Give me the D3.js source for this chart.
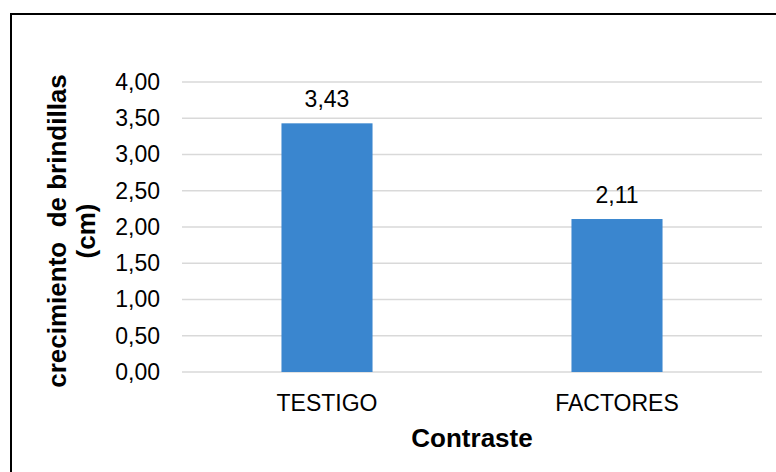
<!DOCTYPE html>
<html>
<head>
<meta charset="utf-8">
<script src="https://cdn.jsdelivr.net/npm/d3@7"></script>
<style>
  html, body { margin: 0; padding: 0; background: #fff; }
  svg { display: block; }
  text { font-family: "Liberation Sans", Arial, sans-serif; fill: #000; }
</style>
</head>
<body>
<svg id="chart" width="776" height="472"></svg>
<script>
const categories = ["TESTIGO", "FACTORES"];
const values = [3.43, 2.11];
const yTicks = [0, 0.5, 1, 1.5, 2, 2.5, 3, 3.5, 4];
const xTitle = "Contraste";
const yTitleLines = ["crecimiento  de brindillas", "(cm)"];

const fmt = v => d3.format(".2f")(v).replace(".", ",");

const svg = d3.select("#chart");
const W = 776, H = 472;
const plot = { left: 182, right: 762, top: 82, bottom: 372 };

svg.append("rect").attr("x", 0).attr("y", 0).attr("width", W).attr("height", H).attr("fill", "#fff");
svg.append("rect")
  .attr("x", 11).attr("y", 14).attr("width", 820).attr("height", 520)
  .attr("fill", "none").attr("stroke", "#000").attr("stroke-width", 2);

const x = d3.scaleBand().domain(categories)
  .range([plot.left, plot.right]).paddingInner(0.686).paddingOuter(0.343);
const y = d3.scaleLinear().domain([0, 4]).range([plot.bottom, plot.top]);

// gridlines
svg.append("g").selectAll("line").data(yTicks).join("line")
  .attr("x1", plot.left).attr("x2", plot.right)
  .attr("y1", d => y(d)).attr("y2", d => y(d))
  .attr("stroke", "#d9d9d9").attr("stroke-width", 1.5);

// y axis labels
const yAxis = d3.axisLeft(y).tickValues(yTicks).tickFormat(fmt).tickSize(0).tickPadding(0);
const gy = svg.append("g").attr("transform", `translate(160,0)`).call(yAxis);
gy.select(".domain").remove();
gy.selectAll("text").attr("font-size", 23).attr("font-family", "Liberation Sans, Arial, sans-serif").attr("fill", "#000");

// bars
svg.append("g").selectAll("rect").data(values).join("rect")
  .attr("x", (d, i) => x(categories[i]))
  .attr("width", x.bandwidth())
  .attr("y", d => y(d))
  .attr("height", d => y(0) - y(d))
  .attr("fill", "#3a86cf");

// value labels
svg.append("g").selectAll("text").data(values).join("text")
  .attr("x", (d, i) => x(categories[i]) + x.bandwidth() / 2)
  .attr("y", d => y(d) - 16)
  .attr("text-anchor", "middle")
  .attr("font-size", 23)
  .text(d => fmt(d));

// x axis labels
const xAxis = d3.axisBottom(x).tickSize(0).tickPadding(0);
const gx = svg.append("g").attr("transform", `translate(0,${plot.bottom})`).call(xAxis);
gx.select(".domain").remove();
gx.selectAll("text").attr("font-size", 23).attr("font-family", "Liberation Sans, Arial, sans-serif")
  .attr("fill", "#000").attr("dy", null).attr("y", 39);

// x title
svg.append("text")
  .attr("x", (plot.left + plot.right) / 2).attr("y", 447)
  .attr("text-anchor", "middle").attr("font-size", 26).attr("font-weight", "bold")
  .text(xTitle);

// y title
const yt = svg.append("text")
  .attr("transform", `translate(0,231) rotate(-90)`)
  .attr("text-anchor", "middle").attr("font-size", 26).attr("font-weight", "bold")
  .style("white-space", "pre");
yt.selectAll("tspan").data(yTitleLines).join("tspan")
  .attr("x", 0).attr("y", (d, i) => i === 0 ? 66 : 95)
  .style("white-space", "pre")
  .text(d => d);
</script>
</body>
</html>
